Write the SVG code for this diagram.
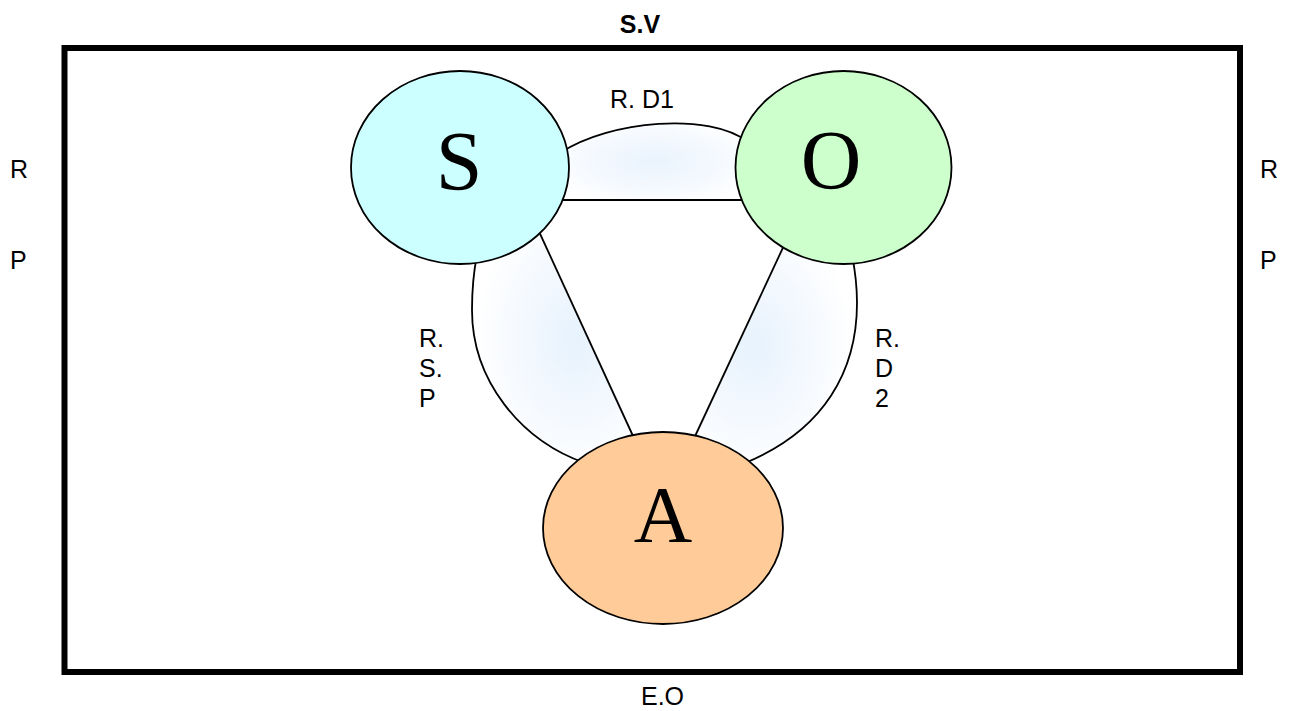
<svg xmlns="http://www.w3.org/2000/svg" width="1290" height="711" viewBox="0 0 1290 711">
  <defs>
    <radialGradient id="band" cx="50%" cy="50%" r="60%">
      <stop offset="0" stop-color="#e9f3fd"/>
      <stop offset="0.5" stop-color="#f3f8fe"/>
      <stop offset="1" stop-color="#ffffff"/>
    </radialGradient>
    <radialGradient id="band-l" cx="62%" cy="48%" r="60%">
      <stop offset="0" stop-color="#e6f2fd"/>
      <stop offset="0.5" stop-color="#f3f8fe"/>
      <stop offset="1" stop-color="#ffffff"/>
    </radialGradient>
    <radialGradient id="band-r" cx="38%" cy="48%" r="60%">
      <stop offset="0" stop-color="#e6f2fd"/>
      <stop offset="0.5" stop-color="#f3f8fe"/>
      <stop offset="1" stop-color="#ffffff"/>
    </radialGradient>
    <style>
      .frame { fill: none; stroke: #000; stroke-width: 6; }
      .edge { fill: none; stroke: #000; stroke-width: 1.8; }
      .node { stroke: #000; stroke-width: 1.8; }
      .big { font-family: "Liberation Serif", "Times New Roman", serif; font-size: 84px; text-anchor: middle; fill: #000; }
      .lbl { font-family: "Liberation Sans", Arial, sans-serif; font-size: 25px; fill: #000; }
      .bold { font-weight: bold; }
    </style>
  </defs>

  <rect width="1290" height="711" fill="#fff"/>

  <!-- outer frame -->
  <rect id="frame" class="frame" x="64.5" y="48" width="1175.5" height="624"/>

  <!-- relations between the three poles -->
  <g id="connectors">
    <!-- S - O -->
    <path fill="url(#band)" d="M560,153 C610,120 710,112 748,142 L745,200 L560,200 Z"/>
    <path class="edge" d="M560,153 C610,120 710,112 748,142"/>
    <line class="edge" x1="560" y1="200" x2="745" y2="200"/>
    <!-- S - A -->
    <path fill="url(#band-l)" d="M477,255 C474,270 472,290 472,310 C472,380 520,440 585,463 L639,449 L536,225 Z"/>
    <path class="edge" d="M477,255 C474,270 472,290 472,310 C472,380 520,440 585,463"/>
    <line class="edge" x1="536" y1="225" x2="639" y2="449"/>
    <!-- O - A -->
    <path fill="url(#band-r)" d="M852,255 C855,270 857,285 857,303 C857,370 825,430 745,463 L690,447 L787,239 Z"/>
    <path class="edge" d="M852,255 C855,270 857,285 857,303 C857,370 825,430 745,463"/>
    <line class="edge" x1="787" y1="239" x2="690" y2="447"/>
  </g>

  <g id="node-S">
    <ellipse class="node" cx="460" cy="167.5" rx="109" ry="96.5" fill="#ccffff"/>
    <text class="big" x="459" y="190">S</text>
  </g>
  <g id="node-O">
    <ellipse class="node" cx="843.5" cy="167.5" rx="108" ry="96.5" fill="#ccffcc"/>
    <text class="big" x="831" y="189">O</text>
  </g>
  <g id="node-A">
    <ellipse class="node" cx="663" cy="528" rx="120" ry="96" fill="#ffcc99"/>
    <text class="big" x="663" y="542" style="font-size:81px">A</text>
  </g>

  <!-- labels -->
  <g id="labels">
    <text class="lbl bold" x="640" y="33" text-anchor="middle">S.V</text>
    <text class="lbl" x="610" y="108">R. D1</text>
    <text class="lbl" x="419" y="347">R.</text>
    <text class="lbl" x="419" y="377">S.</text>
    <text class="lbl" x="419" y="407">P</text>
    <text class="lbl" x="875" y="347">R.</text>
    <text class="lbl" x="875" y="377">D</text>
    <text class="lbl" x="875" y="407">2</text>
    <text class="lbl" x="10" y="178">R</text>
    <text class="lbl" x="10" y="269">P</text>
    <text class="lbl" x="1260" y="178">R</text>
    <text class="lbl" x="1260" y="269">P</text>
    <text class="lbl" x="641" y="705">E.O</text>
  </g>
</svg>
